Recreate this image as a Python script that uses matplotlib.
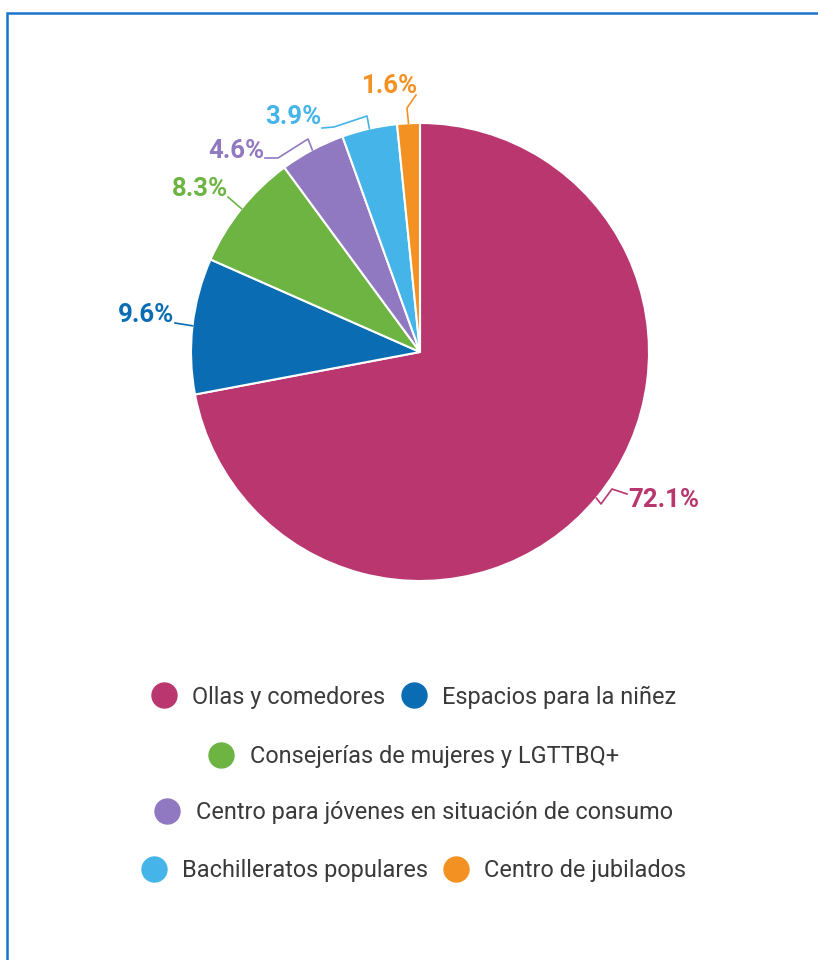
import matplotlib.pyplot as plt
import numpy as np
from matplotlib.lines import Line2D
from matplotlib.patches import Rectangle

# Data
categories = ['Ollas y comedores', 'Espacios para la niñez',
              'Consejerías de mujeres y LGTTBQ+',
              'Centro para jóvenes en situación de consumo',
              'Bachilleratos populares', 'Centro de jubilados']
shares = [72.1, 9.6, 8.3, 4.6, 3.9, 1.6]
value_labels = ['72.1%', '9.6%', '8.3%', '4.6%', '3.9%', '1.6%']
colors = ['#B9366F', '#0A6DB3', '#6DB443', '#9079C1', '#45B5E9', '#F39222']
legend_rows = [[0, 1], [2], [3], [4, 5]]

W, H = 818, 960
plt.rcParams['font.family'] = ['Roboto', 'DejaVu Sans']

fig = plt.figure(figsize=(W / 100, H / 100), dpi=100)
ax = fig.add_axes([0, 0, 1, 1])

# pixel-like coordinates, y going down
center = (420, 352)
radius = 229
wedges, _ = ax.pie(shares, colors=colors, center=center, radius=radius,
                   startangle=-90, counterclock=True, frame=True,
                   wedgeprops=dict(edgecolor='white', linewidth=1.5))
ax.set_xlim(0, W)
ax.set_ylim(H, 0)
ax.set_aspect('equal')
ax.axis('off')

# label placement: text position, alignment, leader waypoints
label_layout = [
    (628, 500, 'left', [(601, 504), (612, 489), (627, 494)]),
    (174, 315, 'right', [(175, 323)]),
    (228, 189, 'right', [(228, 197)]),
    (264, 151, 'right', [(308, 139), (278, 158), (265, 158)]),
    (321, 117, 'right', [(367, 116), (334, 127), (322, 128)]),
    (390, 86, 'center', [(407, 108), (416, 95)]),
]

for w, txt, col, (tx, ty, ha, pts) in zip(wedges, value_labels, colors, label_layout):
    ang = np.deg2rad((w.theta1 + w.theta2) / 2)
    ax0 = center[0] + radius * np.cos(ang)
    ay0 = center[1] + radius * np.sin(ang)
    xs = [ax0] + [p[0] for p in pts]
    ys = [ay0] + [p[1] for p in pts]
    ax.plot(xs, ys, color=col, lw=1.2, solid_joinstyle='round')
    ax.text(tx, ty, txt, color=col, fontsize=18.5, fontweight='bold',
            ha=ha, va='center')

# legend rows
row_y = [697, 757, 813, 871]
for row, y in zip(legend_rows, row_y):
    handles = [Line2D([], [], marker='o', linestyle='none', markersize=18,
                      markerfacecolor=colors[i], markeredgecolor=colors[i])
               for i in row]
    fig.legend(handles, [categories[i] for i in row], ncol=len(row),
               loc='center', bbox_to_anchor=(413 / W, 1 - y / H),
               frameon=False, fontsize=16.9, labelcolor='#3a3a3a',
               handletextpad=0.6, columnspacing=0.6, handlelength=1.2,
               borderpad=0, borderaxespad=0)

# outer frame
fig.patches.append(Rectangle((7 / W, -0.1), 1.2, 1.1 - 13 / H,
                             transform=fig.transFigure, fill=False,
                             edgecolor='#1A74CC', linewidth=1.8))

fig.savefig('out.png', dpi=100, facecolor='white')
